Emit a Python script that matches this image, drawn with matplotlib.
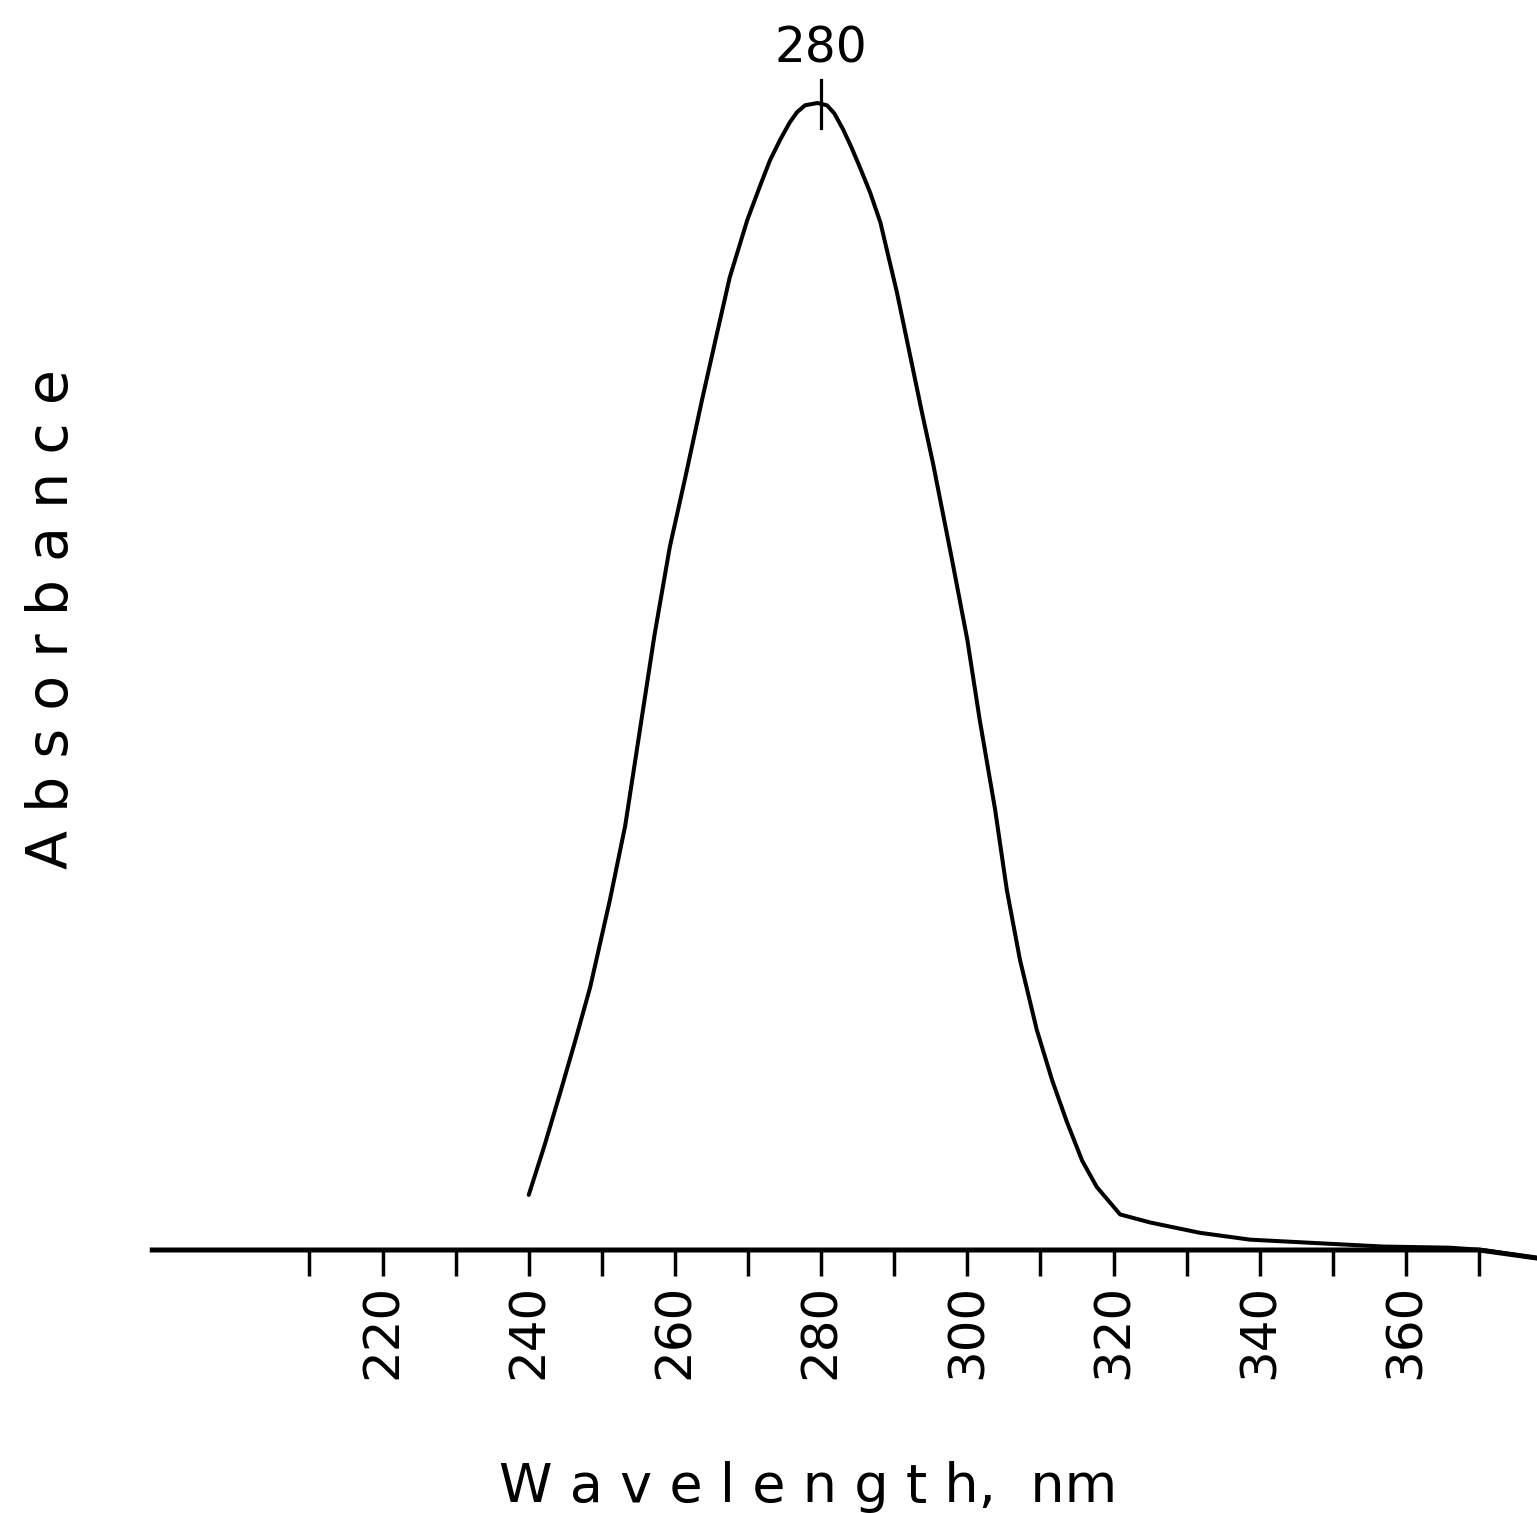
import numpy as np
import matplotlib
matplotlib.use('Agg')
import matplotlib.pyplot as plt

# absorption spectrum (relative units, peak = 1)
wavelength = [240.0, 242.2, 244.3, 246.3, 248.4, 251.1, 253.2, 255.2, 257.2, 259.3,
              261.4, 263.7, 265.5, 267.5, 269.9, 271.6, 273.0, 274.4, 275.7, 276.7,
              277.8, 279.5, 280.8, 281.8, 283.0, 284.1, 285.3, 286.7, 288.1, 290.4,
              292.2, 293.8, 295.3, 297.9, 300.0, 301.7, 303.8, 305.4, 307.2, 309.5,
              311.6, 313.6, 315.7, 317.7, 320.9, 325.0, 331.8, 338.7, 347.8, 356.9,
              366.0, 370.5, 377.9]
absorbance = [0.048, 0.092, 0.137, 0.181, 0.229, 0.305, 0.370, 0.453, 0.536, 0.613,
              0.673, 0.741, 0.792, 0.848, 0.898, 0.927, 0.950, 0.968, 0.983, 0.992,
              0.998, 1.000, 0.998, 0.991, 0.977, 0.962, 0.944, 0.922, 0.896, 0.834,
              0.779, 0.730, 0.686, 0.602, 0.532, 0.462, 0.384, 0.314, 0.253, 0.192,
              0.148, 0.112, 0.078, 0.055, 0.031, 0.024, 0.015, 0.009, 0.006, 0.003,
              0.002, 0.000, -0.007]

# baseline trace
base_wl = [188.5, 370.0, 377.9]
base_abs = [0.0, 0.0, -0.007]

labelled_ticks = [220, 240, 260, 280, 300, 320, 340, 360]
minor_ticks = [210, 230, 250, 270, 290, 310, 330, 350, 370]
peak_nm = 280

fig = plt.figure(figsize=(15.37, 15.13), dpi=100)
ax = fig.add_axes([0, 0, 1, 1])
ax.set_xlim(167.67, 377.93)
ax.set_ylim(-0.2293, 1.0898)

ax.plot(wavelength, absorbance, color='black', lw=2.9,
        solid_capstyle='round', solid_joinstyle='round')
ax.plot(base_wl, base_abs, color='black', lw=3.6)

# peak marker
ax.plot([peak_nm, peak_nm], [0.978, 1.020], color='black', lw=2.3)
ax.text(peak_nm, 1.035, str(peak_nm), ha='center', va='baseline', fontsize=35)

for s in ax.spines.values():
    s.set_visible(False)
ax.spines['bottom'].set_position(('data', 0))
ax.set_xticks(labelled_ticks)
ax.set_xticklabels([str(t) for t in labelled_ticks], rotation=90, fontsize=36)
ax.set_xticks(minor_ticks, minor=True)
ax.tick_params(axis='x', which='both', direction='out', length=19, width=2.5, pad=5)
ax.set_yticks([])

ax.text(0.034, 0.591, 'A b s o r b a n c e', transform=ax.transAxes, rotation=90,
        ha='center', va='center', fontsize=41)
ax.text(0.526, 0.0073, 'W a v e l e n g t h,  nm', transform=ax.transAxes,
        ha='center', va='baseline', fontsize=39)

fig.savefig('out.png', dpi=100)
